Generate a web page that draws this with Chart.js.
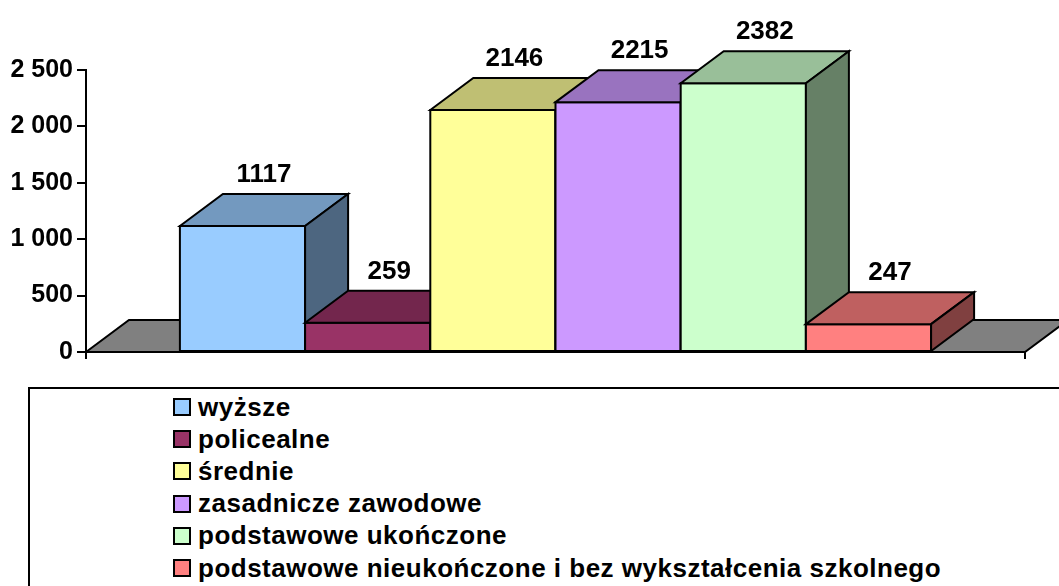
<!DOCTYPE html>
<html>
<head>
<meta charset="utf-8">
<script src="https://cdn.jsdelivr.net/npm/chart.js@4.4.1/dist/chart.umd.min.js"></script>
<style>
  html, body { margin: 0; padding: 0; background: #fff; overflow: hidden; }
  #wrap { position: relative; width: 1059px; height: 586px; }
  #chart { position: absolute; left: 0; top: 0; }
  #legend {
    position: absolute; left: 28px; top: 387px; width: 1100px; height: 260px;
    border: 2px solid #000; box-sizing: border-box;
    font: bold 26px "Liberation Sans", Arial, sans-serif; color: #000;
    letter-spacing: 0.5px;
  }
  .item { position: absolute; left: 143px; height: 32px; display: flex; align-items: center; white-space: nowrap; }
  .sw { width: 14px; height: 14px; border: 2px solid #000; margin-right: 7px; flex: none; }
</style>
</head>
<body>
<div id="wrap">
  <canvas id="chart" width="1059" height="386"></canvas>
  <div id="legend"></div>
</div>
<script>
const categories = [
  'wyższe',
  'policealne',
  'średnie',
  'zasadnicze zawodowe',
  'podstawowe ukończone',
  'podstawowe nieukończone i bez wykształcenia szkolnego',
];
const values = [1117, 259, 2146, 2215, 2382, 247];
const colors = ['#99CCFF', '#993366', '#FFFF99', '#CC99FF', '#CCFFCC', '#FF8080'];
const yMin = 0;
const yMax = 2500;
const yStep = 500;

const FONT = '"Liberation Sans", Arial, sans-serif';
const DX = 43;   // 3d depth offset
const DY = -32;
const FLOOR = '#808080';

// darken a hex colour by a factor
function shade(hex, f) {
  const n = parseInt(hex.slice(1), 16);
  const r = Math.round(((n >> 16) & 255) * f);
  const g = Math.round(((n >> 8) & 255) * f);
  const b = Math.round((n & 255) * f);
  return `rgb(${r},${g},${b})`;
}

function fmt(v) {
  return String(v).replace(/\B(?=(\d{3})+(?!\d))/g, ' ');
}

function poly(ctx, pts, fill) {
  ctx.beginPath();
  ctx.moveTo(pts[0][0], pts[0][1]);
  for (let i = 1; i < pts.length; i++) ctx.lineTo(pts[i][0], pts[i][1]);
  ctx.closePath();
  ctx.fillStyle = fill;
  ctx.fill();
  ctx.stroke();
}

/**
 * Draws the floor and the 3d boxes on top of the plain bars
 */
const bars3d = {
  id: 'bars3d',
  beforeDatasetsDraw(chart) {
    const { ctx, chartArea: a } = chart;
    const y0 = chart.scales.y.getPixelForValue(0);
    ctx.save();
    ctx.lineWidth = 2;
    ctx.strokeStyle = '#000';
    ctx.lineJoin = 'miter';
    poly(ctx, [[a.left, y0], [a.left + DX, y0 + DY], [a.right + DX, y0 + DY], [a.right, y0]], FLOOR);
    ctx.restore();
  },
  afterDatasetsDraw(chart) {
    const { ctx } = chart;
    ctx.save();
    ctx.lineWidth = 2;
    ctx.strokeStyle = '#000';
    ctx.lineJoin = 'miter';
    const tops = [];
    chart.data.datasets.forEach((ds, i) => {
      const el = chart.getDatasetMeta(i).data[0];
      const l = el.x - el.width / 2, r = el.x + el.width / 2;
      const t = el.y, b = el.base;
      const c = ds.backgroundColor;
      poly(ctx, [[l, t], [r, t], [r, b], [l, b]], c);
      poly(ctx, [[l, t], [l + DX, t + DY], [r + DX, t + DY], [r, t]], shade(c, 0.75));
      poly(ctx, [[r, t], [r + DX, t + DY], [r + DX, b + DY], [r, b]], shade(c, 0.5));
      tops.push({ x: el.x + DX / 2, y: t + DY - 19, v: ds.data[0] });
    });
    ctx.fillStyle = '#000';
    ctx.font = `bold 26px ${FONT}`;
    ctx.textAlign = 'center';
    ctx.textBaseline = 'middle';
    tops.forEach(p => ctx.fillText(String(p.v), p.x, p.y));
    ctx.restore();
  },
};

const chart = new Chart(document.getElementById('chart'), {
  type: 'bar',
  data: {
    labels: [''],
    datasets: categories.map((c, i) => ({
      label: c,
      data: [values[i]],
      backgroundColor: colors[i],
      borderWidth: 0,
      categoryPercentage: 0.8,
      barPercentage: 1.0,
    })),
  },
  options: {
    responsive: false,
    animation: false,
    layout: { padding: { top: 70, right: 34, left: 0, bottom: 0 } },
    plugins: {
      legend: { display: false },
      tooltip: { enabled: false },
    },
    scales: {
      x: {
        ticks: { display: false },
        grid: { drawOnChartArea: false, color: '#000', lineWidth: 2, tickLength: 7, offset: true },
        border: { color: '#000', width: 2 },
        afterFit(s) { s.height = 34; },
      },
      y: {
        min: yMin,
        max: yMax,
        ticks: {
          stepSize: yStep,
          color: '#000',
          padding: 4,
          font: { family: FONT, size: 25, weight: 'bold' },
          callback: v => fmt(v),
        },
        grid: { drawOnChartArea: false, color: '#000', lineWidth: 2, tickLength: 9 },
        border: { color: '#000', width: 2 },
        afterFit(s) { s.width = 86; },
      },
    },
  },
  plugins: [bars3d],
});

// legend box
const legend = document.getElementById('legend');
categories.forEach((c, i) => {
  const row = document.createElement('div');
  row.className = 'item';
  row.style.top = (2 + i * 32.2) + 'px';
  const sw = document.createElement('span');
  sw.className = 'sw';
  sw.style.background = colors[i];
  const tx = document.createElement('span');
  tx.textContent = c;
  row.appendChild(sw);
  row.appendChild(tx);
  legend.appendChild(row);
});
</script>
</body>
</html>
